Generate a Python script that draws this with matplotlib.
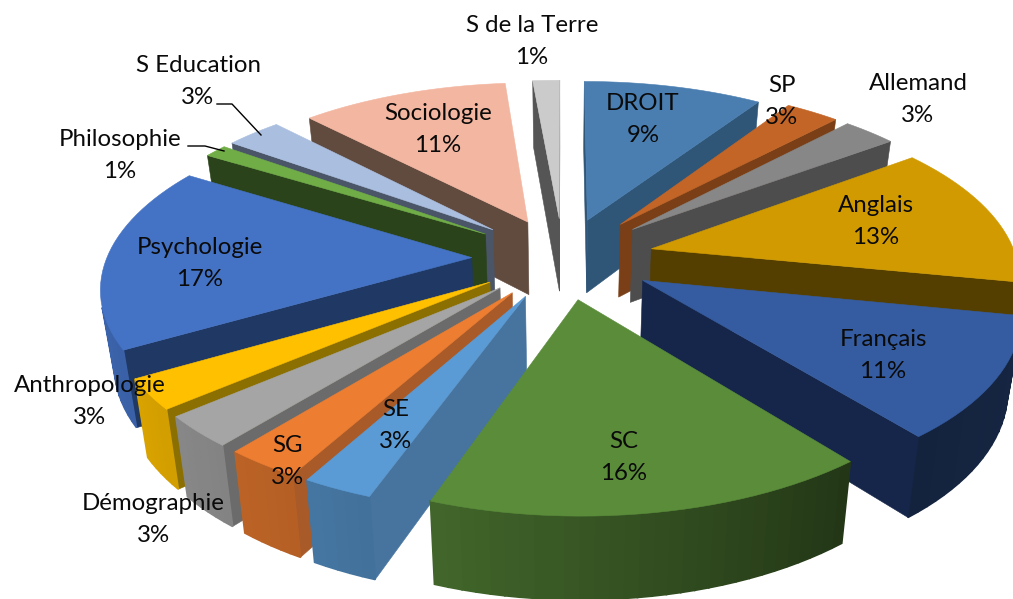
import numpy as np
import matplotlib
matplotlib.use("Agg")
import matplotlib.pyplot as plt
from matplotlib.colors import to_rgb

plt.rcParams["font.family"] = ["Lato", "DejaVu Sans"]

# Data
labels = ["DROIT", "SP", "Allemand", "Anglais", "Français", "SC", "SE", "SG",
          "Démographie", "Anthropologie", "Psychologie", "Philosophie",
          "S Education", "Sociologie", "S de la Terre"]
values = [9.3, 2.8, 2.8, 13.2, 11.1, 16.3, 2.6, 2.8, 2.9, 2.8, 17.1, 1.2, 2.9, 10.8, 1.4]

# Styles
top_colors = ["#4A7EB0", "#C26527", "#878787", "#D09A00", "#355CA1", "#5A8C3A",
              "#5B9BD5", "#ED7D31", "#A5A5A5", "#FFC000", "#4472C4", "#70AD47",
              "#AABFE0", "#F3B6A0", "#CBCBCB"]
side_colors = ["#2F5577", "#7A3F16", "#4D4D4D", "#553F00", "#15264A", "#2C4420",
               "#46749F", "#A85A28", "#6B6B6B", "#8B6F00", "#1F3864", "#2A431A",
               "#4A5568", "#614A3E", "#555555"]
label_pos = [(643, 119), (782, 101), (918, 99), (876, 222), (883, 355), (624, 457),
             (396, 425), (287, 461), (153, 519), (90, 401), (200, 263), (120, 155),
             (198, 81), (438, 129), (532, 41)]
explode = [0.24, 0.26, 0.26, 0.25, 0.25, 0.24, 0.24, 0.24,
           0.24, 0.24, 0.25, 0.26, 0.26, 0.24, 0.24]

# Camera, in pixels
cx, cy = 563, 258
A, B, p = 365, 170, 0.15
depth = 74


def project(x, g):
    w = 1 - p * g
    X = cx + A * x / w
    Y = cy + B * g / w
    return X, Y


def lower(X, Y, g):
    # bottom edge of the extrusion, leaning slightly towards the centre
    w = 1 - p * g
    return cx + (X - cx) * 0.97, Y + depth / w ** 0.6


def rim_shade(theta):
    return np.interp(theta, [100, 140, 198, 215, 240, 270], [0.42, 0.38, 0.72, 0.78, 0.85, 0.9])


def signed_area(pts):
    x, y = np.array(pts).T
    return 0.5 * np.sum(x * np.roll(y, -1) - np.roll(x, -1) * y)


fig = plt.figure(figsize=(10.13, 5.99), dpi=100)
ax = fig.add_axes([0, 0, 1, 1])
ax.set_xlim(0, 1013)
ax.set_ylim(599, 0)
ax.axis("off")

shares = np.array(values) / sum(values) * 360
starts = np.concatenate([[0], np.cumsum(shares)[:-1]])
mids = starts + shares / 2

# back slices first
order = np.argsort(np.cos(np.radians(mids)))[::-1]

for i in order:
    t0, t1 = starts[i], starts[i] + shares[i]
    m = np.radians(mids[i])
    ax0 = explode[i] * np.sin(m)
    ag0 = -explode[i] * np.cos(m)
    th = np.linspace(t0, t1, max(3, int(shares[i] / 2) + 2))
    xs = np.concatenate([[ax0], ax0 + np.sin(np.radians(th))])
    gs = np.concatenate([[ag0], ag0 - np.cos(np.radians(th))])
    X, Y = project(xs, gs)
    Xb, Yb = lower(X, Y, gs)
    n = len(xs)

    for j in range(n):
        k = (j + 1) % n
        quad = [(X[j], Y[j]), (X[k], Y[k]), (Xb[k], Yb[k]), (Xb[j], Yb[j])]
        if signed_area(quad) >= 0:
            continue
        if j == 0 or j == n - 1:
            col = side_colors[i]
            lw = 0.4
        else:
            f = rim_shade((th[j - 1] + th[j]) / 2)
            col = tuple(c * f for c in to_rgb(top_colors[i]))
            lw = 1.2  # hides the seams between rim pieces
        ax.fill(*zip(*quad), color=col, lw=lw)
    ax.fill(X, Y, color=top_colors[i], lw=0.4)

# Labels
for name, val, (tx, ty) in zip(labels, values, label_pos):
    ax.text(tx, ty - 16, name, ha="center", va="center", fontsize=17.3, color="#0A0A0A", zorder=50)
    ax.text(tx, ty + 16, f"{val:.0f}%", ha="center", va="center", fontsize=17.3, color="#0A0A0A", zorder=50)

# Leader lines
ax.plot([217, 232, 261], [104, 104, 135], color="black", lw=1, zorder=40)
ax.plot([188, 205, 224], [146, 146, 151], color="black", lw=1, zorder=40)

fig.savefig("out.png", dpi=100)
